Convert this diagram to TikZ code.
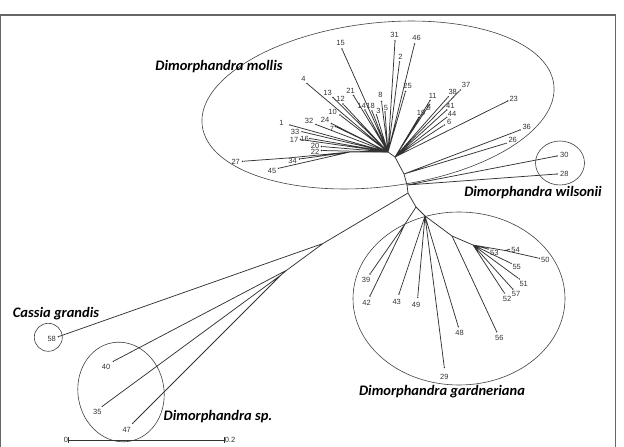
\documentclass[tikz,border=0pt]{standalone}
\usepackage{fontspec}
\setmainfont{Liberation Sans}
\newfontfamily\grpfont{Carlito}
\tikzset{
  branch/.style    = {draw=black!80, line width=0.75pt},
  tip/.style       = {circle, fill=black!80, inner sep=0pt, minimum size=1.6pt},
  lbl/.style       = {inner sep=0pt, font=\fontsize{7.5}{8}\selectfont, text=black!80},
  grp/.style       = {inner sep=0pt, font=\grpfont\bfseries\itshape\fontsize{14.5}{16}\selectfont},
  clade/.style     = {draw=black!75, line width=0.6pt},
  frameline/.style = {draw=black!60, line width=1.2pt},
}
\begin{document}
\begin{tikzpicture}[x=1pt, y=-1pt]
  \useasboundingbox (0,0) rectangle (624,447);

  % frame
  \draw[frameline] (0.6,447) -- (0.6,15) -- (615.5,15) -- (615.5,447);

  % clade outlines
  \draw[clade, rotate around={6.6:(378,105)}] (378,105) ellipse [x radius=177, y radius=82];
  \draw[clade] (560,163) ellipse [x radius=24.5, y radius=22];
  \draw[clade] (459,298.5) ellipse [x radius=106, y radius=86.5];
  \draw[clade] (48.3,337.3) circle [radius=14];
  \draw[clade, rotate around={10:(121,392)}] (121,392) ellipse [x radius=43, y radius=50];

  % clade names
  \node[grp] (nmollis) at (219,67)    {Dimorphandra mollis};
  \node[grp] (nwils)   at (533,192.7) {Dimorphandra wilsonii};
  \node[grp] (ncassia) at (56,314)    {Cassia grandis};
  \node[grp] (nsp)     at (218,417)   {Dimorphandra sp.};
  \node[grp] (ngard)   at (442,392)   {Dimorphandra gardneriana};

  % backbone
  \coordinate (hM) at (388,152);
  \coordinate (hR) at (395,157);
  \coordinate (hL) at (350,152);
  \coordinate (j27) at (288,158);
  \coordinate (s1) at (404,174);
  \coordinate (s2) at (407,185);
  \coordinate (R)  at (408,193);
  \coordinate (S2) at (416,207);
  \coordinate (G)  at (425,216);
  \draw[branch] (hM) -- (hR) -- (s1) -- (s2) -- (R) -- (S2) -- (G);

  % Dimorphandra mollis, left and top
  \node[tip] (l15) at (342,49)      {}; \node[lbl] (t15) at (340.5,43)   {15};
  \node[tip] (l31) at (395,41)      {}; \node[lbl] (t31) at (394.5,35)   {31};
  \node[tip] (l46) at (414.5,44)    {}; \node[lbl] (t46) at (416.5,38)   {46};
  \node[tip] (l2)  at (399.5,62)    {}; \node[lbl] (t2)  at (400.5,56.5) {2};
  \node[tip] (l25) at (405.5,91.5)  {}; \node[lbl] (t25) at (407.5,86)   {25};
  \node[tip] (l4)  at (307,83.5)    {}; \node[lbl] (t4)  at (303.5,78.5) {4};
  \node[tip] (l13) at (333,97.5)    {}; \node[lbl] (t13) at (327.5,93)   {13};
  \node[tip] (l12) at (343,104)     {}; \node[lbl] (t12) at (340.5,99)   {12};
  \node[tip] (l21) at (353.5,95.5)  {}; \node[lbl] (t21) at (350.5,90.5) {21};
  \node[tip] (l14) at (365,110)     {}; \node[lbl] (t14) at (361.5,106)  {14};
  \node[tip] (l18) at (372,111)     {}; \node[lbl] (t18) at (370.5,106)  {18};
  \node[tip] (l3)  at (376.5,115)   {}; \node[lbl] (t3)  at (378.5,110.5) {3};
  \node[tip] (l8)  at (381.5,101.5) {}; \node[lbl] (t8)  at (380.5,95)   {8};
  \node[tip] (l5)  at (385,112)     {}; \node[lbl] (t5)  at (386,107.5)  {5};
  \node[tip] (l10) at (340,115)     {}; \node[lbl] (t10) at (332.5,111.5) {10};
  \node[tip] (l1)  at (290,125)     {}; \node[lbl] (t1)  at (281.5,122.5) {1};
  \node[tip] (l32) at (316,124.5)   {}; \node[lbl] (t32) at (309,121)    {32};
  \node[tip] (l24) at (331.5,123.5) {}; \node[lbl] (t24) at (325,120)    {24};
  \node[tip] (l7)  at (335.5,126.5) {}; \node[lbl] (t7)  at (332,129)    {7};
  \node[tip] (l33) at (302,131.7)   {}; \node[lbl] (t33) at (295,131.7)  {33};
  \node[tip] (l17) at (300.5,139.5) {}; \node[lbl] (t17) at (294,139.5)  {17};
  \node[tip] (l16) at (310,138.5)   {}; \node[lbl] (t16) at (304.5,138.5) {16};
  \node[tip] (l20) at (321.5,146.5) {}; \node[lbl] (t20) at (315,146)    {20};
  \node[tip] (l22) at (321.5,150.5) {}; \node[lbl] (t22) at (315,152)    {22};
  \node[tip] (l27) at (242.5,161.3) {}; \node[lbl] (t27) at (235.7,162.3) {27};
  \node[tip] (l34) at (299.5,159)   {}; \node[lbl] (t34) at (292.5,160.7) {34};
  \node[tip] (l45) at (278.5,168.3) {}; \node[lbl] (t45) at (272,170.5)  {45};

  \draw[branch] (hM) -- (l15) (hM) -- (l31) (hM) -- (l46) (hM) -- (l2) (hM) -- (l25)
                (hM) -- (l4) (hM) -- (l13) (hM) -- (l12) (hM) -- (l21) (hM) -- (l14)
                (hM) -- (l18) (hM) -- (l3) (hM) -- (l8) (hM) -- (l5) (hM) -- (l10)
                (hM) -- (l1) (hM) -- (l32) (hM) -- (l24) (hM) -- (l7) (hM) -- (l33)
                (hM) -- (l17) (hM) -- (l16) (hM) -- (l20) (hM) -- (l22);
  \draw[branch] (hM) -- (hL) -- (l34) (hL) -- (l45) (hL) -- (j27) -- (l27);

  % Dimorphandra mollis, right
  \node[tip] (l19) at (418.7,117.5) {}; \node[lbl] (t19) at (421,112.7)  {19};
  \node[tip] (l11) at (430,100.5)   {}; \node[lbl] (t11) at (432.7,96)   {11};
  \node[tip] (l9)  at (429.5,104.5) {}; \node[lbl] (t9)  at (428.7,108)  {9};
  \node[tip] (l38) at (448.3,96.7)  {}; \node[lbl] (t38) at (452.7,91.7) {38};
  \node[tip] (l37) at (460.3,90)    {}; \node[lbl] (t37) at (466,85)     {37};
  \node[tip] (l41) at (446.7,110)   {}; \node[lbl] (t41) at (450.3,106)  {41};
  \node[tip] (l44) at (446.7,117.3) {}; \node[lbl] (t44) at (452,114)    {44};
  \node[tip] (l6)  at (444.3,125)   {}; \node[lbl] (t6)  at (449.3,121.7) {6};
  \node[tip] (l23) at (507.7,101)   {}; \node[lbl] (t23) at (513.7,99)   {23};
  \node[tip] (l36) at (520,130)     {}; \node[lbl] (t36) at (526.7,126.7) {36};
  \node[tip] (l26) at (506,143.3)   {}; \node[lbl] (t26) at (512.7,140)  {26};

  \draw[branch] (hR) -- (l19) (hR) -- (l11) (hR) -- (l9) (hR) -- (l38) (hR) -- (l37)
                (hR) -- (l41) (hR) -- (l44) (hR) -- (l6) (hR) -- (l23);
  \draw[branch] (s1) -- (l36) (s1) -- (l26);

  % Dimorphandra wilsonii
  \node[tip] (l30) at (557,156) {}; \node[lbl] (t30) at (564.3,155) {30};
  \node[tip] (l28) at (557,174) {}; \node[lbl] (t28) at (564.3,174) {28};
  \draw[branch] (s2) -- (l30) (s2) -- (l28);

  % Cassia grandis and Dimorphandra sp.
  \coordinate (J1) at (323,243.5);
  \coordinate (J2) at (287,270);
  \coordinate (J3) at (281,275);
  \node[tip] (l58) at (58.3,336.7)  {}; \node[lbl] (t58) at (51.7,339)   {58};
  \node[tip] (l40) at (113.3,361.3) {}; \node[lbl] (t40) at (106,366.7)  {40};
  \node[tip] (l35) at (102.3,406.3) {}; \node[lbl] (t35) at (97.3,411.7) {35};
  \node[tip] (l47) at (132.7,423.3) {}; \node[lbl] (t47) at (126.7,429.7) {47};
  \draw[branch] (R) -- (J1) -- (l58) (J1) -- (J2) -- (l40) (J2) -- (J3) -- (l35) (J3) -- (l47);

  % Dimorphandra gardneriana
  \coordinate (j3942) at (405,224);
  \coordinate (g1) at (452,236);
  \coordinate (gs) at (473,245);
  \coordinate (j50) at (505,250.5);
  \node[tip] (l39) at (370,274)     {}; \node[lbl] (t39) at (366,280)    {39};
  \node[tip] (l42) at (370,296)     {}; \node[lbl] (t42) at (366.5,302.5) {42};
  \node[tip] (l43) at (399,294)     {}; \node[lbl] (t43) at (396.7,301.7) {43};
  \node[tip] (l49) at (417.7,297.3) {}; \node[lbl] (t49) at (416,305)    {49};
  \node[tip] (l29) at (444.3,367.5) {}; \node[lbl] (t29) at (444.3,376.5) {29};
  \node[tip] (l48) at (458.3,326.7) {}; \node[lbl] (t48) at (459.5,333)  {48};
  \node[tip] (l56) at (496.7,331.7) {}; \node[lbl] (t56) at (499.3,338)  {56};
  \node[tip] (l53) at (488,249)     {}; \node[lbl] (t53) at (494.3,252.5) {53};
  \node[tip] (l54) at (509,249.5)   {}; \node[lbl] (t54) at (515.5,249.5) {54};
  \node[tip] (l50) at (539.3,258.3) {}; \node[lbl] (t50) at (545.3,260)  {50};
  \node[tip] (l55) at (511,263.3)   {}; \node[lbl] (t55) at (516.7,267.3) {55};
  \node[tip] (l51) at (519.3,279)   {}; \node[lbl] (t51) at (523.7,284)  {51};
  \node[tip] (l57) at (512.7,289)   {}; \node[lbl] (t57) at (516,294)    {57};
  \node[tip] (l52) at (504.3,293)   {}; \node[lbl] (t52) at (507,299)    {52};

  \draw[branch] (S2) -- (j3942) -- (l39) (j3942) -- (l42);
  \draw[branch] (G) -- (l43) (G) -- (l49) (G) -- (l29) (G) -- (l48) (G) -- (g1) -- (l56);
  \draw[branch] (g1) -- (gs) -- (l53) (gs) -- (j50) -- (l54) (j50) -- (l50)
                (gs) -- (l55) (gs) -- (l51) (gs) -- (l57) (gs) -- (l52);

  % scale bar
  \node[lbl] (sb0) at (66,440)  {0};
  \node[lbl] (sb2) at (230,440) {0.2};
  \draw[branch, |-|, line width=0.6pt] (sb0) -- (sb2);

\end{tikzpicture}
\end{document}
